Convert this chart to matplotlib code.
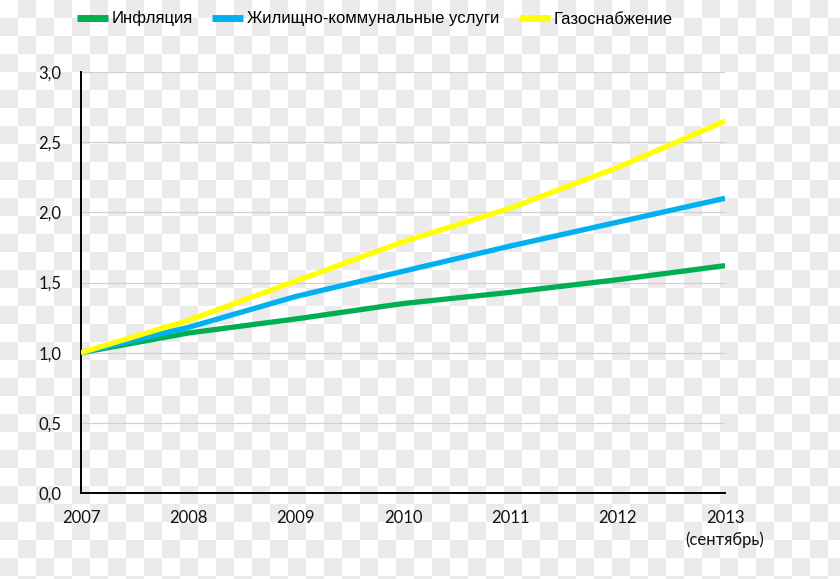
import numpy as np
import matplotlib
matplotlib.use("Agg")
import matplotlib.pyplot as plt

years = [2007, 2008, 2009, 2010, 2011, 2012, 2013]
year_labels = ["2007", "2008", "2009", "2010", "2011", "2012", "2013\n(сентябрь)"]
inflation = [1.00, 1.14, 1.24, 1.35, 1.43, 1.52, 1.62]
housing = [1.00, 1.18, 1.40, 1.58, 1.76, 1.93, 2.10]
gas = [1.00, 1.23, 1.51, 1.79, 2.03, 2.32, 2.65]
series_names = ["Инфляция", "Жилищно-коммунальные услуги", "Газоснабжение"]
colors = ["#00b050", "#00b0f0", "#ffff00"]
yticks = [0.0, 0.5, 1.0, 1.5, 2.0, 2.5, 3.0]

W, H = 840, 579
fig = plt.figure(figsize=(W / 100, H / 100), dpi=100)

# checkerboard background
sq = 18
yy, xx = np.mgrid[0:H, 0:W]
chk = ((xx // sq + yy // sq) % 2).astype(float)
bg = np.where(chk[..., None] == 1, np.array([0.922, 0.922, 0.922]), np.array([1.0, 1.0, 1.0]))
fig.figimage(bg, 0, 0, zorder=-10)
fig.patch.set_alpha(0)

ax = fig.add_axes([81 / W, 1 - 493 / H, (725 - 81) / W, (493 - 72) / H])
ax.patch.set_alpha(0)
for vals, c, n in zip([inflation, housing, gas], colors, series_names):
    ax.plot(years, vals, color=c, lw=3.8, label=n, solid_capstyle="butt", zorder=3)

ax.set_xlim(2007, 2013)
ax.set_ylim(0, 3.0)
ax.set_yticks(yticks)
ax.set_yticklabels([f"{v:.1f}".replace(".", ",") for v in yticks])
ax.set_xticks(years)
ax.set_xticklabels(year_labels, va="top", linespacing=1.45)
for g in yticks[1:]:
    ax.axhline(g, color="#d0d0d0", lw=0.9, zorder=1)
for s in ["top", "right"]:
    ax.spines[s].set_visible(False)
ax.spines["left"].set_linewidth(1.4)
ax.spines["bottom"].set_linewidth(1.4)
ax.tick_params(length=0, labelsize=12, colors="#111111")
ax.tick_params(axis="y", pad=14)
ax.tick_params(axis="x", pad=12)
for t in ax.get_xticklabels() + ax.get_yticklabels():
    t.set_family("Lato")

leg = fig.legend(loc="upper left", bbox_to_anchor=(62 / W, 1 + 4 / H), ncol=3, frameon=False,
                 handlelength=1.85, handletextpad=0.25, columnspacing=1.15,
                 prop={"family": "Liberation Sans", "size": 12})
for l in leg.get_lines():
    l.set_linewidth(5)

fig.savefig("out.png", dpi=100, transparent=False)
